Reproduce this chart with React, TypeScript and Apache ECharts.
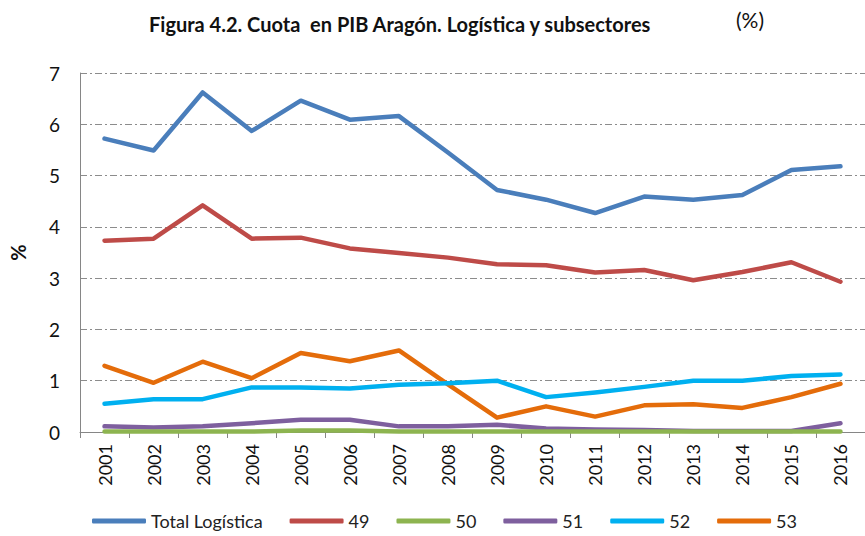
import React, { useEffect, useRef } from "react";
import * as echarts from "echarts";

const years = ["2001","2002","2003","2004","2005","2006","2007","2008","2009","2010","2011","2012","2013","2014","2015","2016"];
const totalLogistica = [5.72, 5.49, 6.62, 5.87, 6.46, 6.09, 6.16, 5.45, 4.72, 4.53, 4.27, 4.59, 4.53, 4.62, 5.11, 5.18];
const s49 = [3.73, 3.77, 4.42, 3.77, 3.79, 3.58, 3.49, 3.40, 3.27, 3.25, 3.11, 3.16, 2.96, 3.12, 3.31, 2.93];
const s50 = [0.01, 0.01, 0.01, 0.01, 0.03, 0.03, 0.01, 0.01, 0.01, 0.01, 0.01, 0.01, 0.01, 0.01, 0.01, 0.01];
const s51 = [0.11, 0.09, 0.11, 0.17, 0.24, 0.24, 0.11, 0.11, 0.14, 0.07, 0.05, 0.04, 0.02, 0.02, 0.02, 0.17];
const s52 = [0.55, 0.64, 0.64, 0.87, 0.87, 0.85, 0.92, 0.95, 1.00, 0.68, 0.77, 0.88, 1.00, 1.00, 1.09, 1.12];
const s53 = [1.29, 0.96, 1.37, 1.05, 1.54, 1.38, 1.59, 0.93, 0.28, 0.50, 0.30, 0.52, 0.54, 0.47, 0.68, 0.94];

const seriesNames = ["Total Logística", "49", "50", "51", "52", "53"];
const seriesData = [totalLogistica, s49, s50, s51, s52, s53];
const colors = ["#4A7EBB", "#BE4B48", "#8DB450", "#7E5F9E", "#00B0F0", "#E46C0A"];
const yTicks = [0, 1, 2, 3, 4, 5, 6, 7];

const FONT = "Lato";

export default function App() {
  const ref = useRef<HTMLDivElement>(null);
  useEffect(() => {
    if (!ref.current) return;
    const chart = echarts.init(ref.current, null, { renderer: "svg" });
    chart.setOption({
      animation: false,
      backgroundColor: "#ffffff",
      title: {
        text: "Figura 4.2. Cuota  en PIB Aragón. Logística y subsectores",
        left: 144,
        top: 9,
        textStyle: { fontFamily: FONT, fontWeight: "bold", fontSize: 20, color: "#111" },
      },
      graphic: [
        {
          type: "text",
          left: 736,
          top: 9,
          style: { text: "(%)", fontFamily: FONT, fontSize: 21, fill: "#111" },
        },
      ],
      legend: {
        data: seriesNames,
        left: 92,
        top: 512,
        padding: 0,
        icon: "roundRect",
        itemWidth: 54,
        itemHeight: 5,
        itemGap: 27,
        textStyle: { fontFamily: FONT, fontSize: 18, color: "#222" },
      },
      grid: { left: 75, top: 73, width: 800, height: 359, containLabel: false },
      xAxis: {
        type: "category",
        data: years,
        boundaryGap: true,
        axisLine: { lineStyle: { color: "#868686", width: 1 } },
        axisTick: { show: true, interval: 0, length: 6, lineStyle: { color: "#868686" } },
        axisLabel: { rotate: 90, interval: 0, margin: 12, fontFamily: FONT, fontSize: 18, color: "#111" },
      },
      yAxis: {
        type: "value",
        min: 0,
        max: 7,
        interval: 1,
        name: "%",
        nameLocation: "middle",
        nameRotate: 90,
        nameGap: 52,
        nameTextStyle: { fontFamily: FONT, fontWeight: "bold", fontSize: 20, color: "#111" },
        axisLine: { show: true, lineStyle: { color: "#868686", width: 1 } },
        axisTick: { show: false },
        axisLabel: {
          fontFamily: FONT,
          fontSize: 19,
          color: "#111",
          margin: 20,
          formatter: (v: number) => (yTicks.includes(v) ? String(v) : ""),
        },
        splitLine: { show: true, lineStyle: { color: "#8c8c8c", width: 1, type: [7, 3, 2, 3] } },
      },
      series: seriesNames.map((name, i) => ({
        name,
        type: "line",
        data: seriesData[i],
        symbol: "none",
        smooth: false,
        color: colors[i],
        lineStyle: { width: 4.5, color: colors[i], cap: "round", join: "round" },
        z: 10 - i,
      })),
    });
    return () => chart.dispose();
  }, []);
  return (
    <div
      ref={ref}
      style={{ position: "fixed", left: 0, top: 0, width: 865, height: 536 }}
    />
  );
}
